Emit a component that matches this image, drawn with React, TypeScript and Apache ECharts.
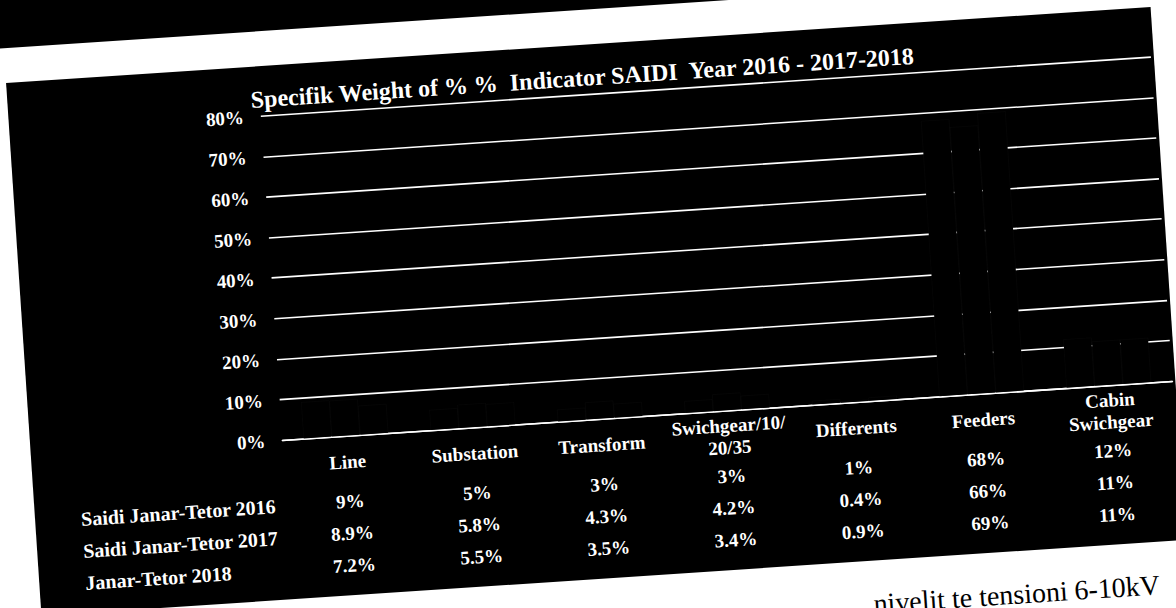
import React, { useEffect, useRef } from 'react';
import * as echarts from 'echarts';

const categories = ['Line', 'Substation', 'Transform', 'Swichgear/10/\n20/35', 'Differents', 'Feeders', 'Cabin\nSwichgear'];
const series2016 = [9, 5, 3, 3, 1, 68, 12];
const series2017 = [8.9, 5.8, 4.3, 4.2, 0.4, 66, 11];
const series2018 = [7.2, 5.5, 3.5, 3.4, 0.9, 69, 11];
const rowNames = ['Saidi Janar-Tetor 2016', 'Saidi Janar-Tetor 2017', 'Janar-Tetor 2018'];
const yMin = 0;
const yMax = 80;
const yStep = 10;
const titleText = 'Specifik Weight of % %  Indicator SAIDI  Year 2016 - 2017-2018';
const captionText = 'nivelit te tensioni 6-10kV';

const SERIF = '"Liberation Serif", "Times New Roman", serif';
const W = 1400;
const H = 800;

export default function App() {
  const ref = useRef<HTMLDivElement>(null);

  useEffect(() => {
    if (!ref.current) return;
    const chart = echarts.init(ref.current, null, { renderer: 'svg' });
    const allSeries = [series2016, series2017, series2018];
    chart.setOption({
      animation: false,
      backgroundColor: 'transparent',
      grid: { left: 386, right: 122, top: 190.8, bottom: 284.5, containLabel: false },
      xAxis: {
        type: 'category',
        data: categories,
        axisLine: { show: true, lineStyle: { color: '#fff', width: 1.6 } },
        axisTick: { show: false },
        axisLabel: {
          color: '#fff',
          fontFamily: SERIF,
          fontWeight: 'bold',
          fontSize: 19,
          lineHeight: 22,
          margin: 26,
          verticalAlign: 'middle',
          interval: 0,
        },
      },
      yAxis: {
        type: 'value',
        min: yMin,
        max: yMax,
        interval: yStep,
        axisLine: { show: false },
        axisTick: { show: false },
        splitLine: { show: true, lineStyle: { color: '#fff', width: 1.6 } },
        axisLabel: {
          color: '#fff',
          fontFamily: SERIF,
          fontWeight: 'bold',
          fontSize: 19,
          margin: 17,
          formatter: '{value}%',
        },
      },
      series: allSeries.map((d, i) => ({
        type: 'bar',
        name: rowNames[i],
        data: d,
        barGap: '0%',
        barCategoryGap: '33.3%',
        itemStyle: {
          color: '#000',
          borderColor: 'rgba(255,255,255,0.09)',
          borderWidth: 0.5,
          borderType: 'dotted',
        },
      })),
    });

    const xs = categories.map((_, i) => chart.convertToPixel({ xAxisIndex: 0 }, i) as number);
    const rowsY = [581, 613, 645];
    const elements: any[] = [];
    elements.push({
      type: 'text',
      x: 377,
      y: 174,
      style: {
        text: titleText,
        fill: '#fff',
        fontFamily: SERIF,
        fontWeight: 'bold',
        fontSize: 24,
        align: 'left',
        verticalAlign: 'middle',
      },
    });
    rowNames.forEach((name, r) => {
      elements.push({
        type: 'text',
        x: 180,
        y: rowsY[r],
        style: {
          text: name,
          fill: '#fff',
          fontFamily: SERIF,
          fontWeight: 'bold',
          fontSize: 20,
          align: 'left',
          verticalAlign: 'middle',
        },
      });
      allSeries[r].forEach((v, c) => {
        elements.push({
          type: 'text',
          x: xs[c],
          y: rowsY[r],
          style: {
            text: v + '%',
            fill: '#fff',
            fontFamily: SERIF,
            fontWeight: 'bold',
            fontSize: 19,
            align: 'center',
            verticalAlign: 'middle',
          },
        });
      });
    });
    elements.push({
      type: 'text',
      x: 1252,
      y: 718,
      style: {
        text: captionText,
        fill: '#000',
        fontFamily: SERIF,
        fontSize: 28,
        align: 'right',
        verticalAlign: 'middle',
      },
    });
    chart.setOption({ graphic: elements });

    return () => {
      chart.dispose();
    };
  }, []);

  return (
    <div
      style={{
        position: 'fixed',
        left: 0,
        top: 0,
        width: 1176,
        height: 608,
        overflow: 'hidden',
        background: '#fff',
      }}
    >
      <div
        style={{
          position: 'absolute',
          left: (1176 - W) / 2,
          top: (608 - H) / 2,
          width: W,
          height: H,
          transform: 'rotate(-3.8deg)',
          transformOrigin: '50% 50%',
        }}
      >
        <div style={{ position: 'absolute', left: -200, top: -200, width: W + 400, height: 305.5, background: '#000' }} />
        <div style={{ position: 'absolute', left: 134, top: 141, width: 1147, height: 534, background: '#000' }} />
        <div ref={ref} style={{ position: 'absolute', left: 0, top: 0, width: W, height: H }} />
      </div>
    </div>
  );
}
